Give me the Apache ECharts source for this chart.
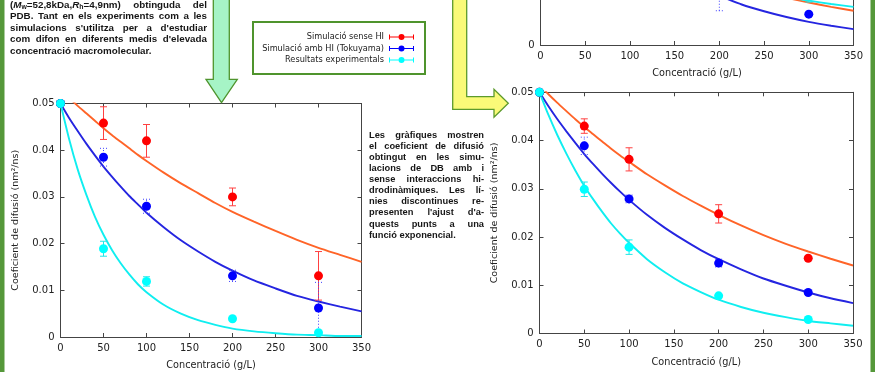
<!DOCTYPE html>
<html><head><meta charset="utf-8">
<script src="https://cdn.jsdelivr.net/npm/echarts@6/dist/echarts.min.js"></script>
<style>html,body{margin:0;padding:0;background:#fff}#c{width:875px;height:372px}</style>
</head><body><div id="c"></div>
<script>
// ---------------- data ----------------
const seriesNames = ['Simulació sense HI', 'Simulació amb HI (Tokuyama)', 'Resultats experimentals'];
const xAxisTitle = 'Concentració (g/L)';
const yAxisTitle = 'Coeficient de difusió (nm²/ns)';
const concX = [0, 50, 100, 200, 300];
const fitX = [0,10,20,30,40,50,60,70,80,90,100,120,140,160,180,200,225,250,275,300,325,350];

// bottom-left chart
const leftNoHI = [0.0500, 0.0458, 0.0420, 0.0300, 0.0131];
const leftNoHIErr = [0, 0.0035, 0.0035, 0.0019, 0.0052];
const leftHI = [0.0500, 0.0385, 0.0280, 0.0131, 0.0062];
const leftHIErr = [0, 0.0019, 0.0015, 0.0012, 0.0055];
const leftExp = [0.0500, 0.0189, 0.0119, 0.0039, 0.0009];
const leftExpErr = [0, 0.0016, 0.0010, 0, 0];
const leftFitNoHI = [0.0530,0.0512,0.0495,0.0479,0.0463,0.0447,0.0432,0.0418,0.0404,0.0390,0.0377,0.0352,0.0329,0.0308,0.0287,0.0268,0.0247,0.0227,0.0208,0.0191,0.0176,0.0161];
const leftFitHI = [0.0500,0.0469,0.0441,0.0414,0.0389,0.0365,0.0343,0.0322,0.0302,0.0284,0.0266,0.0235,0.0207,0.0183,0.0161,0.0142,0.0121,0.0104,0.0088,0.0076,0.0065,0.0055];
const leftFitExp = [0.0500,0.0424,0.0359,0.0305,0.0258,0.0219,0.0186,0.0158,0.0134,0.0113,0.0096,0.0069,0.0050,0.0036,0.0026,0.0018,0.0012,0.0008,0.0005,0.0004,0.0002,0.0002];

// bottom-right chart
const rightNoHI = [0.0500, 0.0430, 0.0361, 0.0248, 0.0156];
const rightNoHIErr = [0, 0.0015, 0.0024, 0.0019, 0];
const rightHI = [0.0500, 0.0389, 0.0279, 0.0146, 0.0085];
const rightHIErr = [0, 0.0018, 0.0008, 0.0008, 0.0004];
const rightExp = [0.0500, 0.0299, 0.0179, 0.0078, 0.0029];
const rightExpErr = [0, 0.0015, 0.0015, 0, 0];
const rightFitNoHI = [0.0515,0.0496,0.0478,0.0461,0.0444,0.0428,0.0413,0.0398,0.0383,0.0369,0.0356,0.0330,0.0307,0.0285,0.0265,0.0246,0.0224,0.0204,0.0186,0.0170,0.0155,0.0141];
const rightFitHI = [0.0500,0.0471,0.0444,0.0419,0.0395,0.0372,0.0351,0.0331,0.0312,0.0294,0.0277,0.0246,0.0219,0.0195,0.0173,0.0154,0.0133,0.0114,0.0099,0.0085,0.0073,0.0063];
const rightFitExp = [0.0500,0.0453,0.0411,0.0373,0.0338,0.0306,0.0278,0.0252,0.0228,0.0207,0.0188,0.0154,0.0127,0.0104,0.0086,0.0070,0.0055,0.0043,0.0034,0.0026,0.0021,0.0016];

// top-right chart (only its lower part is visible)
const topHIX = [200, 300];
const topHI = [0.0115, 0.0064];
const topHIErr = [0.0044, 0];
const topExpX = [300];
const topExp = [0.0105];
const topExpErr = [0.0016];
const topFitX = [200,225,250,275,300,325,350];
const topFitNoHI = [0.0136,0.0122,0.0110,0.0098,0.0088,0.0079,0.0071];
const topFitHI = [0.0102,0.0084,0.0070,0.0058,0.0048,0.0040,0.0033];
const topFitExp = [0.0127,0.0118,0.0108,0.0099,0.0092,0.0085,0.0079];

// poster text
const leftTextLines = [
  "({i|M}{s|w}=52,8kDa,{i|R}{s|h}=4,9nm) obtinguda del",
  "PDB. Tant en els experiments com a les",
  "simulacions s'utilitza per a d'estudiar",
  "com difon en diferents medis d'elevada",
  "concentració macromolecular."
];
const rightTextLines = [
  "Les gràfiques mostren",
  "el coeficient de difusió",
  "obtingut en les simu-",
  "lacions de DB amb i",
  "sense interaccions hi-",
  "drodinàmiques. Les lí-",
  "nies discontinues re-",
  "presenten l'ajust d'a-",
  "quests punts a una",
  "funció exponencial."
];

// ---------------- styling / layout ----------------
const C_RED = '#ff0000', C_BLUE = '#0000ff', C_CYAN = '#00ffff';
const C_FIT_RED = '#ff6428', C_FIT_BLUE = '#2525e0', C_FIT_CYAN = '#10eef0';
const AXC = '#444', TXC = '#222';
const AXFONT = 'DejaVu Sans';
const BOLDFAM = '"Liberation Sans", Arial, sans-serif';

const grids = [
  {left: 60.5, top: 103.5, width: 301, height: 233.5, outerBoundsMode: 'none', containLabel: false},     // bottom-left
  {left: 539.5, top: 92.3, width: 313.5, height: 241.2, outerBoundsMode: 'none', containLabel: false},   // bottom-right
  {left: 540.5, top: -196.2, width: 313, height: 241.2, outerBoundsMode: 'none', containLabel: false}    // top-right (cut)
];
const nameGaps = [23, 24, 23.5];

const xAxes = [], yAxes = [];
grids.forEach((g, gi) => {
  ['bottom', 'top'].forEach(pos => {
    xAxes.push({
      type: 'value', gridIndex: gi, position: pos, min: 0, max: 350, interval: 50,
      axisLine: {show: true, onZero: false, lineStyle: {color: AXC, width: 1}},
      axisTick: {show: true, inside: true, length: 4, lineStyle: {color: AXC}},
      axisLabel: {show: pos === 'bottom', color: TXC, fontSize: 10, fontFamily: AXFONT, margin: 6},
      splitLine: {show: false},
      name: pos === 'bottom' ? xAxisTitle : '', nameLocation: 'middle', nameGap: nameGaps[gi],
      nameTextStyle: {color: TXC, fontSize: 9.7, fontFamily: AXFONT}
    });
  });
  ['left', 'right'].forEach(pos => {
    yAxes.push({
      type: 'value', gridIndex: gi, position: pos, min: 0, max: 0.05, interval: 0.01,
      axisLine: {show: true, onZero: false, lineStyle: {color: AXC, width: 1}},
      axisTick: {show: true, inside: true, length: 4, lineStyle: {color: AXC}},
      axisLabel: {show: pos === 'left', color: TXC, fontSize: 10, fontFamily: AXFONT, margin: 6,
        formatter: v => v === 0 ? '0' : v.toFixed(2)},
      splitLine: {show: false},
      name: (pos === 'left' && gi < 2) ? yAxisTitle : '', nameLocation: 'middle', nameGap: 40,
      nameTextStyle: {color: TXC, fontSize: 9.5, fontFamily: AXFONT}
    });
  });
});

function fitLine(gi, xs, ys, color) {
  return {type: 'line', xAxisIndex: gi * 2, yAxisIndex: gi * 2, data: xs.map((x, i) => [x, ys[i]]),
    showSymbol: false, smooth: 0.2, clip: true, lineStyle: {color, width: 1.9}, z: 2, silent: true};
}
function errBars(gi, xs, ys, es, color, dash) {
  const data = [];
  xs.forEach((x, i) => { if (es[i] > 0) data.push([x, ys[i] - es[i], ys[i] + es[i]]); });
  return {type: 'custom', xAxisIndex: gi * 2, yAxisIndex: gi * 2, data, z: 3, silent: true,
    encode: {x: 0, y: [1, 2]},
    renderItem: (params, api) => {
      const x = api.value(0), a = api.coord([x, api.value(1)]), b = api.coord([x, api.value(2)]);
      const cw = 3.5;
      const style = {stroke: color, lineWidth: 1, lineDash: dash || null, fill: null};
      return {type: 'group', children: [
        {type: 'line', shape: {x1: a[0], y1: a[1], x2: b[0], y2: b[1]}, style},
        {type: 'line', shape: {x1: a[0] - cw, y1: a[1], x2: a[0] + cw, y2: a[1]}, style},
        {type: 'line', shape: {x1: b[0] - cw, y1: b[1], x2: b[0] + cw, y2: b[1]}, style}
      ]};
    }};
}
function dots(gi, name, xs, ys, color, z) {
  return {type: 'scatter', name, xAxisIndex: gi * 2, yAxisIndex: gi * 2, data: xs.map((x, i) => [x, ys[i]]),
    symbol: 'circle', symbolSize: 9, itemStyle: {color, opacity: 1}, z: z || 4, clip: true};
}

const series = [];
// bottom-left
series.push(fitLine(0, fitX, leftFitNoHI, C_FIT_RED), fitLine(0, fitX, leftFitHI, C_FIT_BLUE), fitLine(0, fitX, leftFitExp, C_FIT_CYAN));
series.push(errBars(0, concX, leftNoHI, leftNoHIErr, '#ff4040'), errBars(0, concX, leftHI, leftHIErr, '#4040ff', [1, 2]), errBars(0, concX, leftExp, leftExpErr, '#20e8e8'));
series.push(dots(0, seriesNames[0], concX, leftNoHI, C_RED), dots(0, seriesNames[1], concX, leftHI, C_BLUE), dots(0, seriesNames[2], concX, leftExp, C_CYAN, 5));
// bottom-right
series.push(fitLine(1, fitX, rightFitNoHI, C_FIT_RED), fitLine(1, fitX, rightFitHI, C_FIT_BLUE), fitLine(1, fitX, rightFitExp, C_FIT_CYAN));
series.push(errBars(1, concX, rightNoHI, rightNoHIErr, '#ff4040'), errBars(1, concX, rightHI, rightHIErr, '#4040ff', [1, 2]), errBars(1, concX, rightExp, rightExpErr, '#20e8e8'));
series.push(dots(1, seriesNames[0], concX, rightNoHI, C_RED), dots(1, seriesNames[1], concX, rightHI, C_BLUE), dots(1, seriesNames[2], concX, rightExp, C_CYAN, 5));
// top-right (partial)
series.push(fitLine(2, topFitX, topFitNoHI, C_FIT_RED), fitLine(2, topFitX, topFitHI, C_FIT_BLUE), fitLine(2, topFitX, topFitExp, C_FIT_CYAN));
series.push(errBars(2, topHIX, topHI, topHIErr, '#4040ff', [1, 2]), errBars(2, topExpX, topExp, topExpErr, '#20e8e8'));
series.push(dots(2, seriesNames[1], topHIX, topHI, C_BLUE), dots(2, seriesNames[2], topExpX, topExp, C_CYAN, 5));

// ---------------- justified poster text ----------------
const mctx = document.createElement('canvas').getContext('2d');
function fontFor(style, size) {
  if (style === 'i') return `italic bold ${size}px ${BOLDFAM}`;
  if (style === 's') return `bold ${(size * 0.7).toFixed(1)}px ${BOLDFAM}`;
  return `bold ${size}px ${BOLDFAM}`;
}
function measureWord(word, size) {
  const re = /\{(\w)\|([^}]*)\}|([^{]+)/g;
  let m, total = 0;
  while ((m = re.exec(word)) !== null) {
    const style = m[1] || '', txt = m[1] ? m[2] : m[3];
    mctx.font = fontFor(style, size);
    total += mctx.measureText(txt).width;
  }
  return total;
}
function justify(lines, x0, x1, y0, lh, size) {
  const out = [];
  mctx.font = fontFor('', size);
  const space = mctx.measureText(' ').width;
  lines.forEach((line, li) => {
    const y = y0 + li * lh;
    const words = line.split(' ');
    const widths = words.map(t => measureWord(t, size));
    const total = widths.reduce((a, b) => a + b, 0);
    const last = li === lines.length - 1;
    const gap = (!last && words.length > 1) ? (x1 - x0 - total) / (words.length - 1) : space;
    let x = x0;
    words.forEach((t, i) => {
      out.push({type: 'text', x, y, z: 5, silent: true, style: {
        text: t, fontSize: size, fontWeight: 'bold', fontFamily: BOLDFAM, fill: '#161616',
        align: 'left', verticalAlign: 'middle', lineHeight: 12,
        rich: {
          i: {fontStyle: 'italic', fontWeight: 'bold', fontSize: size, fontFamily: BOLDFAM, fill: '#161616', lineHeight: 12},
          s: {fontWeight: 'bold', fontSize: +(size * 0.7).toFixed(1), fontFamily: BOLDFAM, fill: '#161616', lineHeight: 12, verticalAlign: 'bottom'}
        }
      }});
      x += widths[i] + gap;
    });
  });
  return out;
}

const GREEN = '#4f942d';
const graphics = [
  {type: 'rect', z: 0, silent: true, shape: {x: 0, y: 0, width: 4.5, height: 372}, style: {fill: '#55983a'}},
  {type: 'rect', z: 0, silent: true, shape: {x: 870.5, y: 0, width: 4.5, height: 372}, style: {fill: '#55983a'}},
  // green down arrow
  {type: 'polygon', z: 1, silent: true, shape: {points: [[213.3, -5], [229.3, -5], [229.3, 79.3], [237.3, 79.3], [221.5, 102.7], [206, 79.3], [213.3, 79.3]]},
    style: {fill: '#a6f4c6', stroke: GREEN, lineWidth: 1.3}},
  // yellow L arrow
  {type: 'polygon', z: 1, silent: true, shape: {points: [[452.7, -5], [466.7, -5], [466.7, 96.7], [494, 96.7], [494, 89.3], [508.3, 103.3], [494, 117.3], [494, 109.3], [452.7, 109.3]]},
    style: {fill: '#fafa78', stroke: '#5c9a2c', lineWidth: 1.3}},
  // legend frame
  {type: 'rect', z: 1, silent: true, shape: {x: 253, y: 22, width: 172, height: 52}, style: {fill: '#fff', stroke: GREEN, lineWidth: 2}}
].concat(justify(leftTextLines, 10, 207, 4.8, 11.5, 9.8), justify(rightTextLines, 369, 484, 135.7, 11.03, 9.3));

const errIcon = 'path://M0,1h1v2h8.6v1h-8.6v2h-1z M25,1h-1v2h-8.6v1h8.6v2h1z M9.5,3.5a3,3 0 1,0 6,0a3,3 0 1,0 -6,0z';

const chart = echarts.init(document.getElementById('c'), null, {renderer: 'canvas'});
chart.setOption({
  animation: false,
  backgroundColor: '#ffffff',
  grid: grids,
  xAxis: xAxes,
  yAxis: yAxes,
  legend: {
    orient: 'vertical', right: 461, top: 31.5, align: 'right', padding: 0,
    itemWidth: 25, itemHeight: 6, itemGap: 0.5, selectedMode: false, z: 10,
    textStyle: {fontSize: 8.2, fontFamily: AXFONT, color: TXC, lineHeight: 11},
    data: seriesNames.map(n => ({name: n, icon: errIcon}))
  },
  graphic: {elements: graphics},
  series
});
</script>
</body></html>
